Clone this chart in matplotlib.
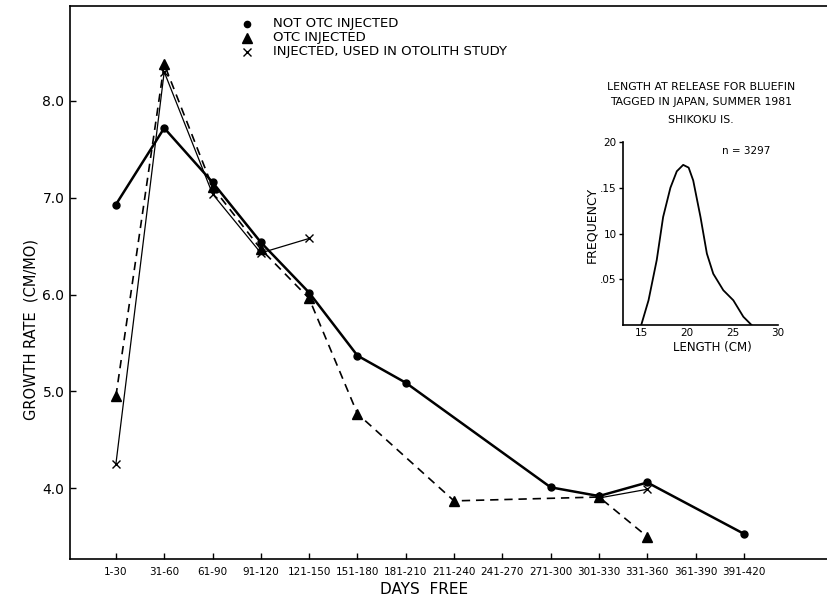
import matplotlib
matplotlib.use("Agg")
import matplotlib.pyplot as plt
from matplotlib.lines import Line2D

plt.rcParams['font.family'] = ['DejaVu Sans']

categories = ["1-30", "31-60", "61-90", "91-120", "121-150", "151-180", "181-210",
              "211-240", "241-270", "271-300", "301-330", "331-360", "361-390", "391-420"]

# Not OTC injected (circles, heavy solid)
not_otc_cats = ["1-30", "31-60", "61-90", "91-120", "121-150", "151-180", "181-210",
                "271-300", "301-330", "331-360", "391-420"]
not_otc_vals = [6.93, 7.72, 7.16, 6.54, 6.02, 5.37, 5.09, 4.01, 3.92, 4.06, 3.53]

# OTC injected (triangles, dashed)
otc_cats = ["1-30", "31-60", "61-90", "91-120", "121-150", "151-180", "211-240",
            "301-330", "331-360"]
otc_vals = [4.95, 8.38, 7.11, 6.47, 5.96, 4.77, 3.87, 3.91, 3.50]

# Injected, used in otolith study (x, thin solid) - two separate pieces
oto_cats_a = ["1-30", "31-60", "61-90", "91-120", "121-150"]
oto_vals_a = [4.25, 8.30, 7.04, 6.43, 6.58]
oto_cats_b = ["301-330", "331-360"]
oto_vals_b = [3.90, 3.99]

y_ticks = [4.0, 5.0, 6.0, 7.0, 8.0]
y_ticklabels = ["4.0", "5.0", "6.0", "7.0", "8.0"]

legend_labels = ["NOT OTC INJECTED", "OTC INJECTED", "INJECTED, USED IN OTOLITH STUDY"]

# Inset: length frequency at release
inset_len = [15.0, 15.8, 16.7, 17.4, 18.2, 18.9, 19.6, 20.2, 20.7, 21.5, 22.2, 22.9,
             24.0, 25.1, 26.2, 27.1]
inset_freq = [0.0, 0.027, 0.071, 0.118, 0.150, 0.168, 0.175, 0.172, 0.158, 0.118,
              0.078, 0.056, 0.038, 0.027, 0.009, 0.0]
inset_xticks = [15, 20, 25, 30]
inset_yticks = [0.05, 0.10, 0.15, 0.20]
inset_yticklabels = [".05", "10", ".15", "20"]

W, H = 828, 598
fig = plt.figure(figsize=(W / 100, H / 100), dpi=100)
ax = fig.add_axes([70 / W, 1 - 559 / H, (828 - 70) / W, (559 - 6) / H])

idx = {c: i for i, c in enumerate(categories)}
def pos(cs):
    return [idx[c] for c in cs]

ax.plot(pos(not_otc_cats), not_otc_vals, color='black', lw=1.8, marker='o', ms=5, zorder=4)
ax.plot(pos(otc_cats), otc_vals, color='black', lw=1.2, ls=(0, (5, 3.5)), marker='^', ms=7, zorder=3)
ax.plot(pos(oto_cats_a), oto_vals_a, color='black', lw=0.9, marker='x', ms=6, mew=1.0, zorder=5)
ax.plot(pos(oto_cats_b), oto_vals_b, color='black', lw=0.9, marker='x', ms=6, mew=1.0, zorder=5)

ax.set_xlim(-0.95, 14.74)
ax.set_ylim(3.27, 8.98)
ax.set_xticks(range(len(categories)))
ax.set_xticklabels(categories, fontsize=7.5)
ax.set_yticks(y_ticks)
ax.set_yticklabels(y_ticklabels, fontsize=10)
ax.tick_params(axis='both', direction='in', length=4, width=1, color='black')
ax.tick_params(axis='x', pad=6)
ax.tick_params(axis='y', pad=4)
ax.spines['right'].set_visible(False)
for s in ['left', 'top', 'bottom']:
    ax.spines[s].set_linewidth(1.2)

fig.text(31 / W, 1 - 329 / H, "GROWTH RATE  (CM/MO)", fontsize=10.5, rotation=90,
         ha='center', va='center')
fig.text(424 / W, 1 - 589 / H, "DAYS  FREE", fontsize=11, ha='center', va='center')

# Legend (marker + text rows)
legend_markers = [dict(marker='o', ms=4.5), dict(marker='^', ms=6.5), dict(marker='x', ms=6, mew=1.0)]
legend_rows_y = [24, 38, 52]
for lab, mk, ry in zip(legend_labels, legend_markers, legend_rows_y):
    fig.add_artist(Line2D([247 / W], [1 - ry / H], transform=fig.transFigure, ls='none',
                          color='black', **mk))
    fig.text(273 / W, 1 - ry / H, lab, fontsize=9.5, ha='left', va='center')

# Inset
iax = fig.add_axes([623 / W, 1 - 325 / H, (778 - 623) / W, (325 - 142) / H])
iax.plot(inset_len, inset_freq, color='black', lw=1.3)
iax.set_xlim(13.0, 30)
iax.set_ylim(0, 0.20)
iax.set_xticks(inset_xticks)
iax.set_xticklabels([str(v) for v in inset_xticks], fontsize=7.5)
iax.set_yticks(inset_yticks)
iax.set_yticklabels(inset_yticklabels, fontsize=7.5)
iax.tick_params(axis='y', direction='out', length=3, width=1, pad=1.5)
iax.tick_params(axis='x', direction='out', length=0, pad=2)
iax.spines['right'].set_visible(False)
iax.spines['top'].set_visible(False)
iax.spines['left'].set_linewidth(1.2)
iax.spines['bottom'].set_linewidth(1.2)
iax.patch.set_alpha(0)
fig.text(592 / W, 1 - 225 / H, "FREQUENCY", fontsize=9, rotation=90, ha='center', va='center')
fig.text(712 / W, 1 - 347 / H, "LENGTH (CM)", fontsize=8.5, ha='center', va='center')

fig.text(701 / W, 1 - 87 / H, "LENGTH AT RELEASE FOR BLUEFIN", fontsize=7.8, ha='center', va='center')
fig.text(701 / W, 1 - 102 / H, "TAGGED IN JAPAN, SUMMER 1981", fontsize=7.8, ha='center', va='center')
fig.text(701 / W, 1 - 120 / H, "SHIKOKU IS.", fontsize=7.8, ha='center', va='center')
fig.text(722 / W, 1 - 151 / H, "n = 3297", fontsize=7.5, ha='left', va='center')

fig.savefig("out.png", dpi=100)
